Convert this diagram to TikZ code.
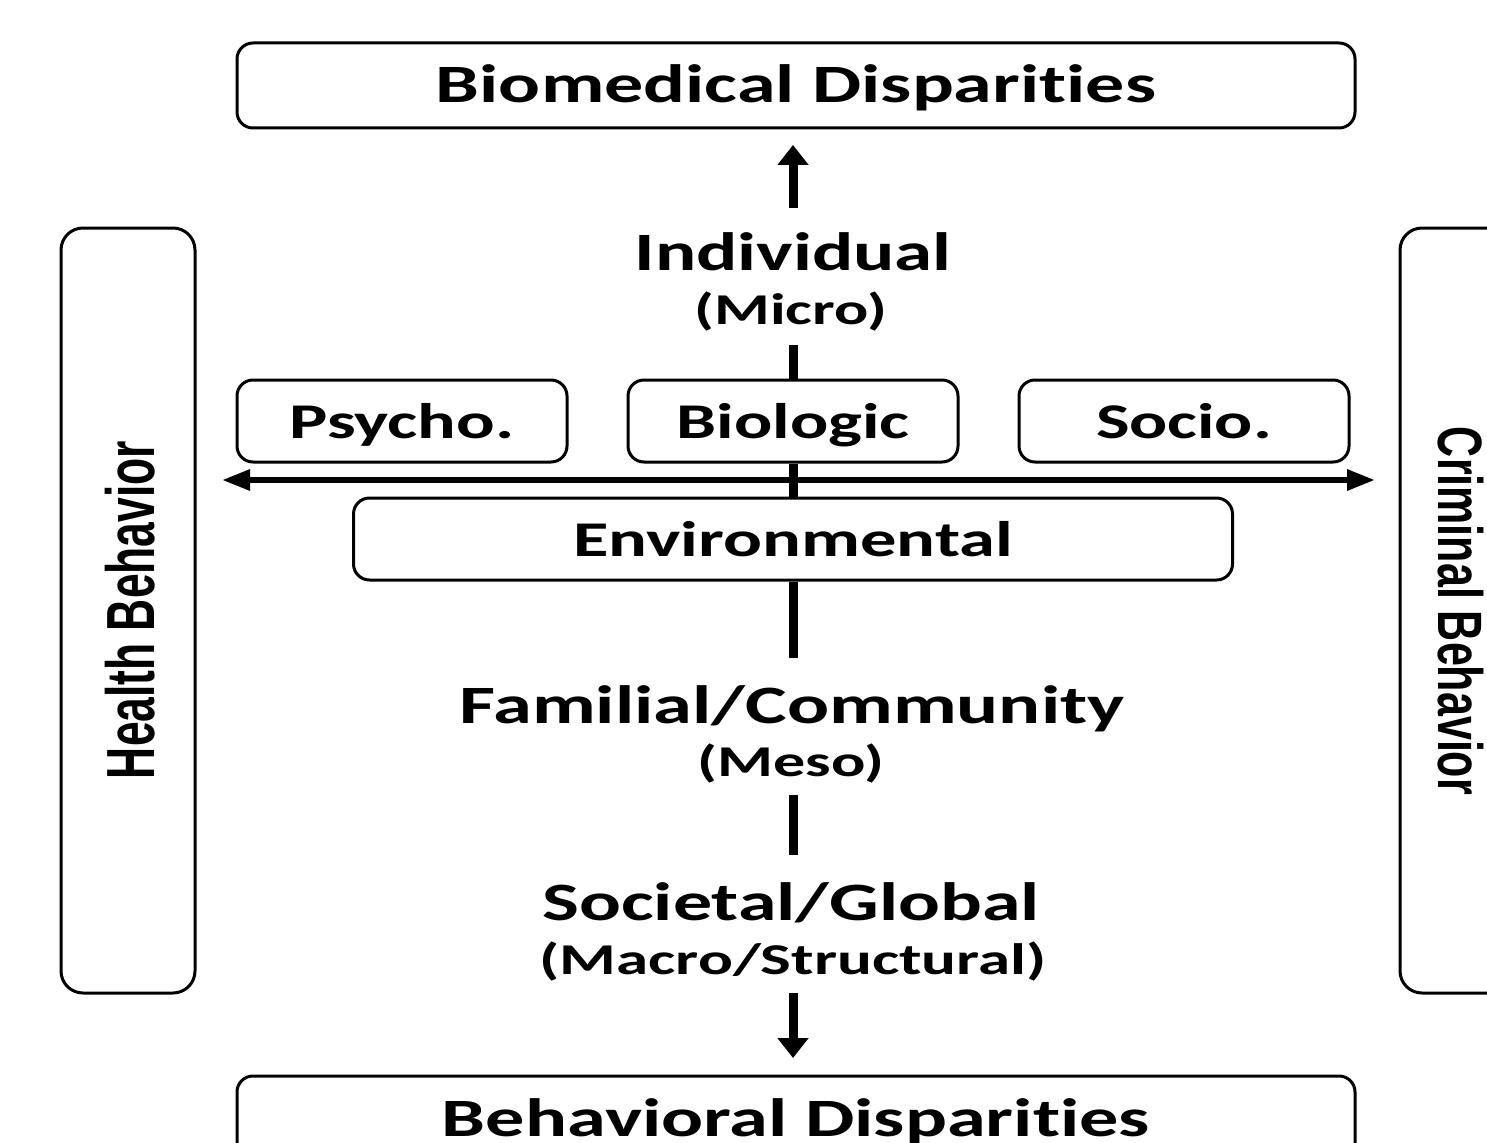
\documentclass[tikz,border=0pt]{standalone}
\usepackage{graphicx}
\usepackage{fontspec}
\setmainfont{Carlito}[Ligatures=NoCommon]
\newfontfamily\sidefont{Liberation Sans}
\usetikzlibrary{arrows.meta}
\newcommand\lab[3]{\resizebox{#1pt}{\height}{\fontsize{#2}{#2}\selectfont\bfseries #3}}
\begin{document}
\begin{tikzpicture}[x=1pt,y=-1pt,
  box/.style={draw, line width=3pt, rounded corners=16pt, inner sep=0pt, text height=35pt, text depth=0pt},
  sidebox/.style={draw, line width=3pt, rounded corners=22pt, inner sep=0pt, minimum width=134pt, minimum height=765pt},
  lbl/.style={inner sep=0pt, anchor=base},
  vline/.style={line width=9pt},
  varrow/.style={line width=9pt, -{Triangle[length=20pt,width=30pt]}},
  harrow/.style={line width=6pt, {Triangle[length=28pt,width=20pt]}-{Triangle[length=28pt,width=20pt]}},
]
\useasboundingbox (0,0) rectangle (1487,1142);
\clip (0,0) rectangle (1487,1142);

% boxes
\node[box, minimum width=1118pt, minimum height=85pt] (biomed) at (796,85.5) {\lab{720}{54}{Biomedical Disparities}};
\node[box, minimum width=330pt, minimum height=82pt] (psy) at (402,421) {\lab{225}{50}{Psycho.}};
\node[box, minimum width=330pt, minimum height=82pt] (biol) at (793,421) {\lab{233}{50}{Biologic}};
\node[box, minimum width=330pt, minimum height=82pt] (socio) at (1184,421) {\lab{176}{50}{Socio.}};
\node[box, minimum width=879pt, minimum height=82pt] (env) at (793,539) {\lab{440}{50}{Environmental}};
\node[box, minimum width=1118pt, minimum height=85pt] (behav) at (796,1118.5) {\lab{708}{54}{Behavioral Disparities}};

\node[sidebox] (hb) at (128,610.5) {};
\node[inner sep=0pt] (hbt) at (130,610) {\resizebox*{50pt}{338pt}{\rotatebox{90}{\sidefont\bfseries Health Behavior}}};
\node[sidebox] (cb) at (1467,610.5) {};
\node[inner sep=0pt] (cbt) at (1461,611) {\resizebox*{46pt}{368pt}{\rotatebox{-90}{\sidefont\bfseries Criminal Behavior}}};

% free labels
\node[lbl] (indiv) at (793,270) {\lab{317}{54}{Individual}};
\node[lbl] (micro) at (791,324) {\lab{193}{44}{(Micro)}};
\node[lbl] (fam) at (792,723) {\lab{665}{54}{Familial/Community}};
\node[lbl] (meso) at (791,776) {\lab{187}{44}{(Meso)}};
\node[lbl] (soc) at (791,920) {\lab{497}{54}{Societal/Global}};
\node[lbl] (macro) at (793,974) {\lab{507}{44}{(Macro/Structural)}};

% connector coordinates
\coordinate (upstart) at (793,208);
\coordinate (uptip) at (793,145);
\coordinate (m1) at (793,345);
\coordinate (m2) at (793,658);
\coordinate (m3) at (793,795);
\coordinate (m4) at (793,855);
\coordinate (dnstart) at (793,993);
\coordinate (dntip) at (793,1058);
\coordinate (hl) at (222,480);
\coordinate (hr) at (1375,480);

\draw[varrow] (upstart) -- (uptip);
\draw[vline] (m1) -- (biol.north);
\draw[vline] (biol.south) -- (env.north);
\draw[harrow] (hl) -- (hr);
\draw[vline] (env.south) -- (m2);
\draw[vline] (m3) -- (m4);
\draw[varrow] (dnstart) -- (dntip);
\end{tikzpicture}
\end{document}
